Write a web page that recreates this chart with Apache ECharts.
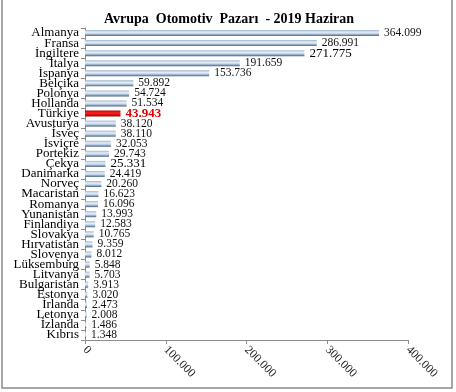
<!DOCTYPE html>
<html><head><meta charset="utf-8">
<script src="https://cdn.jsdelivr.net/npm/echarts@6/dist/echarts.min.js"></script>
<style>html,body{margin:0;padding:0;background:#fff}#c{width:456px;height:392px}</style>
</head><body><div id="c"></div>
<script>
var titleText = 'Avrupa  Otomotiv  Pazarı  - 2019 Haziran';
var categories = ['Almanya','Fransa','İngiltere','İtalya','İspanya','Belçika','Polonya','Hollanda','Türkiye','Avusturya','İsveç','İsviçre','Portekiz','Çekya','Danimarka','Norveç','Macaristan','Romanya','Yunanistan','Finlandiya','Slovakya','Hırvatistan','Slovenya','Lüksemburg','Litvanya','Bulgaristan','Estonya','İrlanda','Letonya','İzlanda','Kıbrıs'];
var values = [364099,286991,271775,191659,153736,59892,54724,51534,43943,38120,38110,32053,29743,25331,24419,20260,16623,16096,13993,12583,10765,9359,8012,5848,5703,3913,3020,2473,2008,1486,1348];
var highlight = 'Türkiye';
var largeLabels = ['İngiltere','Çekya'];
var xTicks = [0,100000,200000,300000,400000];

function fmt(v){return String(v).replace(/\B(?=(\d{3})+(?!\d))/g,'.');}
var serif = '"Liberation Serif", "DejaVu Serif", serif';
var blueGrad = new echarts.graphic.LinearGradient(0,0,0,1,[
  {offset:0,color:'#9fb6cf'},{offset:0.35,color:'#e4edf7'},{offset:0.6,color:'#c3d5e9'},{offset:1,color:'#46627f'}]);
var redGrad = new echarts.graphic.LinearGradient(0,0,0,1,[
  {offset:0,color:'#c00000'},{offset:0.4,color:'#ff2020'},{offset:1,color:'#a00000'}]);

var data = categories.map(function(c,i){
  var d = {value: values[i]};
  if (c === highlight) {
    d.itemStyle = {color: redGrad};
    d.label = {color:'#e00000', fontWeight:'bold', fontSize:13};
  } else if (largeLabels.indexOf(c) >= 0) {
    d.label = {fontSize:13, color:'#000'};
  }
  return d;
});

var chart = echarts.init(document.getElementById('c'), null, {renderer:'canvas'});
chart.setOption({
  animation:false,
  title:{text:titleText, left:224, top:7, textAlign:'center',
    textStyle:{fontFamily:serif, fontSize:14, fontWeight:'bold', color:'#000'}},
  graphic:[{type:'rect', shape:{x:2,y:-2,width:450,height:390},
    style:{fill:'none', stroke:'#8a8a8a', lineWidth:1.5}, silent:true}],
  grid:{left:85, right:48, top:28, bottom:52},
  xAxis:{type:'value', min:0, max:400000, interval:100000,
    axisLine:{show:true, lineStyle:{color:'#8c8c8c'}},
    axisTick:{show:true, length:4, lineStyle:{color:'#8c8c8c'}},
    splitLine:{show:false},
    axisLabel:{rotate:-45, margin:8, fontFamily:serif, fontSize:12, color:'#222',
      formatter:function(v){return fmt(v);}}},
  yAxis:{type:'category', data:categories, inverse:true,
    axisLine:{show:true, lineStyle:{color:'#8c8c8c'}},
    axisTick:{show:true, length:4, lineStyle:{color:'#8c8c8c'}},
    axisLabel:{interval:0, margin:6, fontFamily:serif, fontSize:13, lineHeight:11, color:'#000'}},
  series:[{type:'bar', data:data, barWidth:6,
    itemStyle:{color:blueGrad},
    label:{show:true, position:'right', distance:5, fontFamily:serif, fontSize:11.5, color:'#111',
      formatter:function(p){return fmt(p.value);}}}]
});
</script></body></html>
